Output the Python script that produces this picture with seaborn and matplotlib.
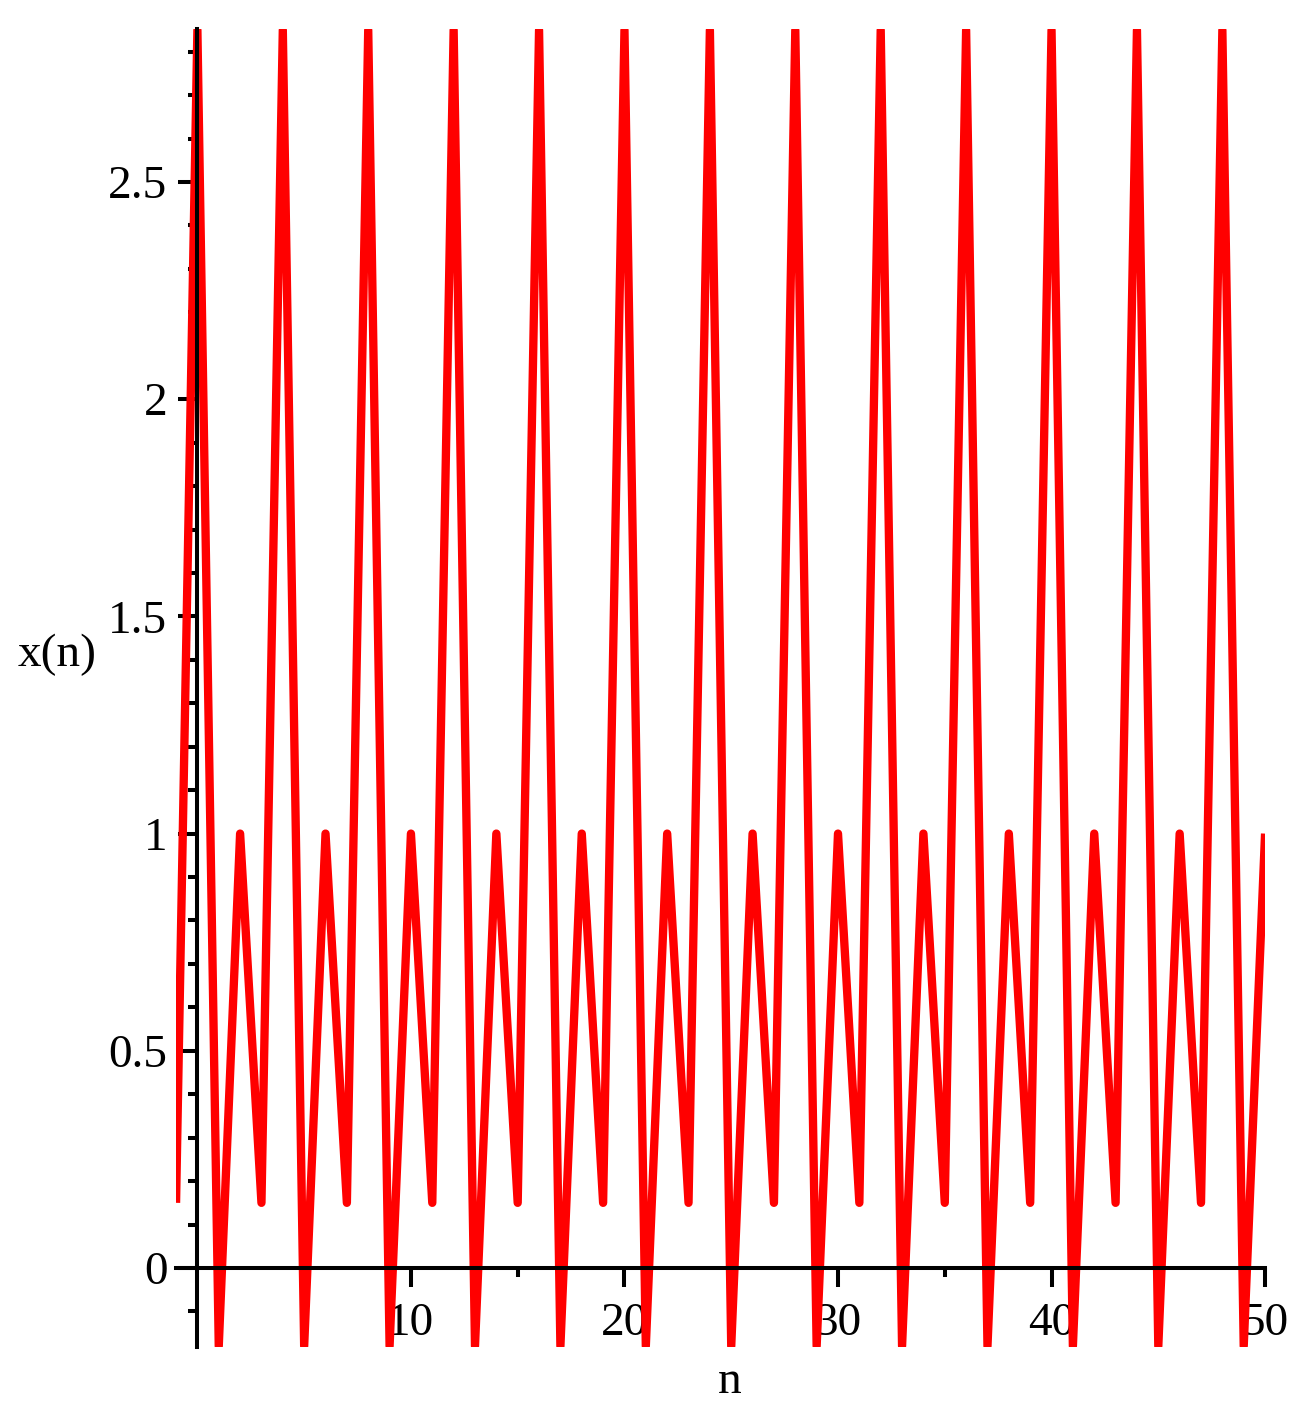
import numpy as np
import pandas as pd
import seaborn as sns
import matplotlib.pyplot as plt
from matplotlib.ticker import MultipleLocator, FixedLocator

# values, n = -1 .. 50
n_values = list(range(-1, 51))
x_values = [
  0.15,
  2.85, -0.18, 1.0, 0.15, 2.85, -0.18, 1.0, 0.15, 2.85, -0.18,
  1.0, 0.15, 2.85, -0.18, 1.0, 0.15, 2.85, -0.18, 1.0, 0.15,
  2.85, -0.18, 1.0, 0.15, 2.85, -0.18, 1.0, 0.15, 2.85, -0.18,
  1.0, 0.15, 2.85, -0.18, 1.0, 0.15, 2.85, -0.18, 1.0, 0.15,
  2.85, -0.18, 1.0, 0.15, 2.85, -0.18, 1.0, 0.15, 2.85, -0.18,
  1.0,
]
x_major = [10, 20, 30, 40, 50]
x_minor = [5, 15, 25, 35, 45]

df = pd.DataFrame({'n': n_values, 'x(n)': x_values})

sns.set_style('white')
plt.rcParams['font.family'] = ['Liberation Serif', 'DejaVu Serif']
plt.rcParams['text.color'] = 'black'
plt.rcParams['axes.labelcolor'] = 'black'

fig = plt.figure(figsize=(13.05, 14.19), dpi=100)
ax = fig.add_axes([0.1349, 0.0507, 0.8345, 0.9288])

sns.lineplot(data=df, x='n', y='x(n)', ax=ax, color='#ff0000', linewidth=6.0,
             solid_joinstyle='round', solid_capstyle='butt', zorder=1)

ax.set_xlim(-1, 50)
ax.set_ylim(-0.182, 2.852)

# axes through the origin
ax.spines['top'].set_visible(False)
ax.spines['right'].set_visible(False)
ax.spines['left'].set_position(('data', 0))
ax.spines['bottom'].set_position(('data', 0))
for s in ['left', 'bottom']:
  ax.spines[s].set_linewidth(2.9)
  ax.spines[s].set_color('black')
  ax.spines[s].set_zorder(3)

ax.xaxis.set_major_locator(FixedLocator(x_major))
ax.xaxis.set_minor_locator(FixedLocator(x_minor))
ax.yaxis.set_major_locator(MultipleLocator(0.5))
ax.yaxis.set_minor_locator(MultipleLocator(0.1))
ax.yaxis.set_major_formatter(plt.FuncFormatter(lambda v, p: f'{v:g}'))

ax.tick_params(axis='both', which='both', direction='out', color='black',
               width=2.9, labelsize=34, labelcolor='black')
ax.tick_params(axis='both', which='major', length=13.7)
ax.tick_params(axis='both', which='minor', length=6.5)
ax.tick_params(axis='x', which='major', pad=11)
ax.tick_params(axis='y', which='major', pad=8)
ax.tick_params(bottom=True, left=True, which='both')

ax.set_xlabel('n', fontsize=34, ha='center', va='baseline', color='black')
ax.xaxis.set_label_coords(0.5087, -0.0349)
ax.set_ylabel('x(n)', fontsize=34, rotation=0, ha='center', va='baseline', color='black')
ax.yaxis.set_label_coords(-0.1093, 0.5167)

ax.grid(False)
fig.savefig('out.png', dpi=100)
